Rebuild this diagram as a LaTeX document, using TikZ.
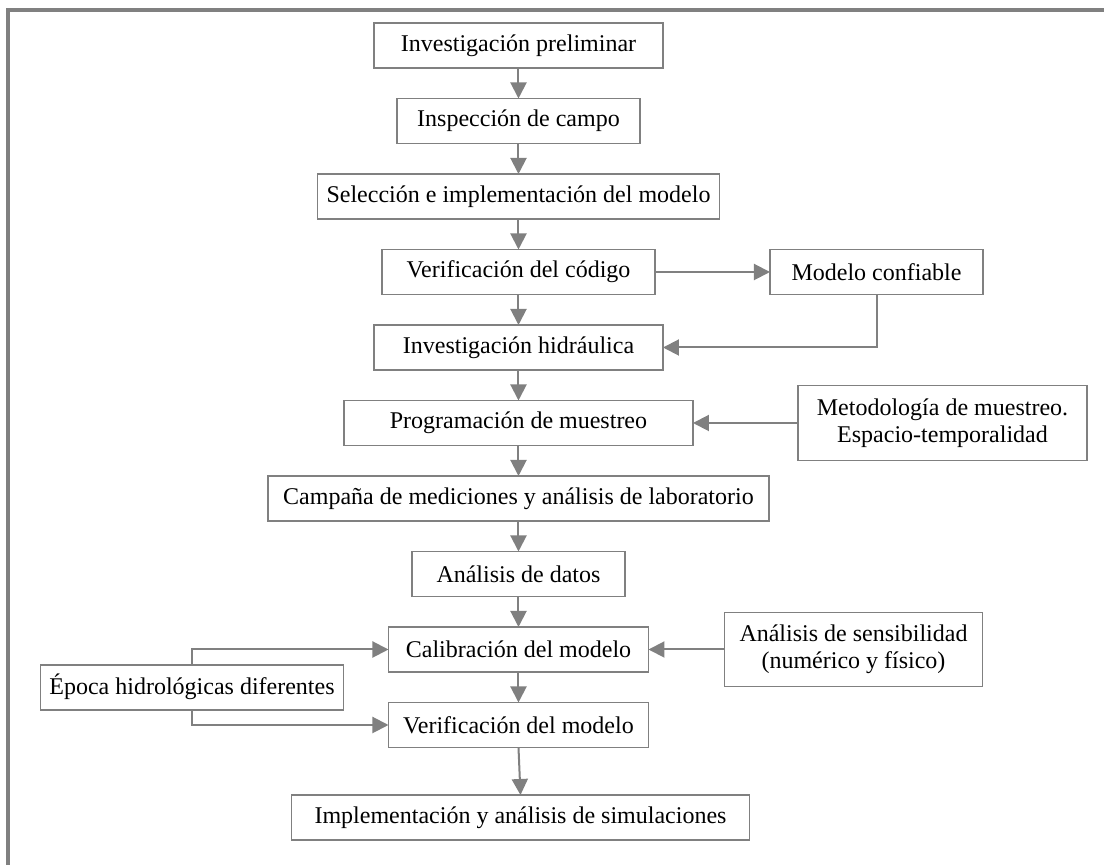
\documentclass[tikz,border=0pt]{standalone}
\usepackage{fontspec}
\setmainfont{Liberation Serif}
\usetikzlibrary{arrows.meta, positioning}
\definecolor{linegray}{RGB}{128,128,128}
\tikzset{
    stage/.style={
        rectangle,
        draw=linegray,
        line width=0.9pt,
        minimum height=22.5pt,
        inner sep=2pt,
        outer sep=0pt,
        align=center,
        fill=white,
        font=\fontsize{12}{13.5}\selectfont
    },
    flow/.style={
        draw=linegray,
        line width=1pt,
        -{Triangle[length=8pt,width=8pt]}
    },
    frame/.style={
        draw=linegray,
        line width=2pt
    }
}

\begin{document}
\begin{tikzpicture}[node distance=15.25pt and 57.5pt]
\useasboundingbox (-259.25pt,22.75pt) rectangle (292.75pt,-409.75pt);

% Frame
\coordinate (frame_tr) at (292.75pt,17.75pt);
\coordinate (frame_tl) at (-255pt,17.75pt);
\coordinate (frame_bl) at (-255pt,-409.75pt);
\draw[frame] (frame_tr) -- (frame_tl) -- (frame_bl);

% Main column
\node[stage, minimum width=144.5pt] (inv_prelim) {Investigación preliminar};
\node[stage, minimum width=121.5pt, below=of inv_prelim] (insp_campo) {Inspección de campo};
\node[stage, minimum width=201pt, below=of insp_campo] (sel_modelo) {Selección e implementación del modelo};
\node[stage, minimum width=136.5pt, below=of sel_modelo] (verif_codigo) {Verificación del código};
\node[stage, minimum width=144.5pt, below=of verif_codigo] (inv_hidr) {Investigación hidráulica};
\node[stage, minimum width=174.5pt, below=of inv_hidr] (prog_muestreo) {Programación de muestreo};
\node[stage, minimum width=250.5pt, below=of prog_muestreo] (campana) {Campaña de mediciones y análisis de laboratorio};
\node[stage, minimum width=106.5pt, below=of campana] (analisis_datos) {Análisis de datos};
\node[stage, minimum width=130pt, below=of analisis_datos] (calibracion) {Calibración del modelo};
\node[stage, minimum width=130pt, below=of calibracion] (verif_modelo) {Verificación del modelo};
\node[stage, minimum width=229pt, below=23.75pt of verif_modelo, xshift=1pt] (implementacion) {Implementación y análisis de simulaciones};

% Side boxes
\node[stage, minimum width=106.5pt, right=of verif_codigo] (modelo_conf) {Modelo confiable};
\node[stage, minimum width=144.5pt, minimum height=37.5pt, right=52.5pt of prog_muestreo] (metod_muestreo) {Metodología de muestreo.\\Espacio-temporalidad};
\node[stage, minimum width=129pt, minimum height=37pt, right=38pt of calibracion] (sensibilidad) {Análisis de sensibilidad\\(numérico y físico)};
\node[stage, minimum width=151.5pt, left=22.5pt of calibracion.south west, yshift=-7.6pt] (epocas) {Época hidrológicas diferentes};

% Main flow
\draw[flow] (inv_prelim) -- (insp_campo);
\draw[flow] (insp_campo) -- (sel_modelo);
\draw[flow] (sel_modelo) -- (verif_codigo);
\draw[flow] (verif_codigo) -- (inv_hidr);
\draw[flow] (inv_hidr) -- (prog_muestreo);
\draw[flow] (prog_muestreo) -- (campana);
\draw[flow] (campana) -- (analisis_datos);
\draw[flow] (analisis_datos) -- (calibracion);
\draw[flow] (calibracion) -- (verif_modelo);
\draw[flow] (verif_modelo.south) -- (implementacion.north);

% Side connections
\draw[flow] (verif_codigo) -- (modelo_conf);
\draw[flow] (modelo_conf.south) |- (inv_hidr.east);
\draw[flow] (metod_muestreo) -- (prog_muestreo);
\draw[flow] (sensibilidad) -- (calibracion);
\draw[flow] (epocas.north) |- (calibracion.west);
\draw[flow] (epocas.south) |- (verif_modelo.west);

\end{tikzpicture}
\end{document}
